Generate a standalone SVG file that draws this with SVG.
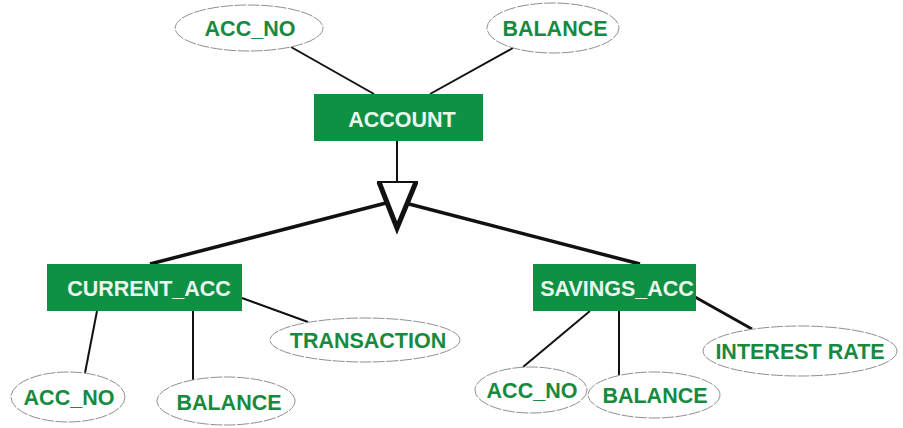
<svg xmlns="http://www.w3.org/2000/svg" width="903" height="428" viewBox="0 0 903 428">
  <style>
    .entity { fill: #0f9143; }
    .entity-label { fill: #eaf7ee; font-family: "Liberation Sans", Arial, sans-serif; font-weight: bold; font-size: 21.5px; text-anchor: middle; }
    .attr { fill: #ffffff; stroke: #8f8f8f; stroke-width: 1; stroke-dasharray: 12 1.5; }
    .attr-label { fill: #178a40; font-family: "Liberation Sans", Arial, sans-serif; font-weight: bold; font-size: 21.5px; text-anchor: middle; }
    .link { stroke: #111111; stroke-width: 2; fill: none; }
    .thick { stroke: #111111; stroke-width: 3.5; fill: none; }
  </style>
  <rect width="903" height="428" fill="#ffffff"/>

  <g id="connectors">
    <!-- ACCOUNT attributes -->
    <line class="link" x1="291" y1="47" x2="374" y2="94"/>
    <line class="link" x1="513" y1="48" x2="430" y2="94"/>
    <!-- ISA -->
    <line class="link" x1="397" y1="141" x2="397" y2="182"/>
    <line class="thick" x1="386" y1="203" x2="150" y2="264"/>
    <line class="thick" x1="409" y1="204" x2="640" y2="264"/>
    <!-- CURRENT_ACC attributes -->
    <line class="link" x1="97" y1="311" x2="85" y2="373"/>
    <line class="link" x1="193" y1="311" x2="193" y2="380"/>
    <line class="link" x1="242" y1="298" x2="308" y2="322"/>
    <!-- SAVINGS_ACC attributes -->
    <line class="link" x1="590" y1="311" x2="523" y2="367"/>
    <line class="link" x1="619" y1="311" x2="619" y2="375"/>
    <line class="thick" x1="695" y1="297" x2="752" y2="329" style="stroke-width:3"/>
  </g>

  <g id="isa-triangle">
    <line x1="377" y1="182" x2="418" y2="182" stroke="#111" stroke-width="2"/>
    <polyline points="379,182 397,228 416,182" fill="none" stroke="#111" stroke-width="5" stroke-linejoin="miter"/>
  </g>

  <g id="account">
    <rect class="entity" x="314" y="94" width="169" height="47"/>
    <text class="entity-label" x="402" y="127">ACCOUNT</text>
  </g>
  <g id="account-acc-no">
    <ellipse class="attr" cx="249" cy="28" rx="74" ry="23"/>
    <text class="attr-label" x="250" y="36">ACC_NO</text>
  </g>
  <g id="account-balance">
    <ellipse class="attr" cx="553" cy="28" rx="66" ry="25"/>
    <text class="attr-label" x="555" y="36">BALANCE</text>
  </g>

  <g id="current-acc">
    <rect class="entity" x="47" y="264" width="195" height="47"/>
    <text class="entity-label" x="149" y="296">CURRENT_ACC</text>
  </g>
  <g id="current-acc-no">
    <ellipse class="attr" cx="68" cy="397" rx="57" ry="25"/>
    <text class="attr-label" x="69" y="405">ACC_NO</text>
  </g>
  <g id="current-balance">
    <ellipse class="attr" cx="226" cy="401" rx="69" ry="24"/>
    <text class="attr-label" x="229" y="410">BALANCE</text>
  </g>
  <g id="current-transaction">
    <ellipse class="attr" cx="365" cy="340" rx="95" ry="22"/>
    <text class="attr-label" x="368" y="348">TRANSACTION</text>
  </g>

  <g id="savings-acc">
    <rect class="entity" x="533" y="264" width="163" height="47"/>
    <text class="entity-label" x="617" y="296">SAVINGS_ACC</text>
  </g>
  <g id="savings-acc-no">
    <ellipse class="attr" cx="531" cy="390" rx="56" ry="23"/>
    <text class="attr-label" x="532" y="398">ACC_NO</text>
  </g>
  <g id="savings-balance">
    <ellipse class="attr" cx="654" cy="395" rx="66" ry="23"/>
    <text class="attr-label" x="655" y="403">BALANCE</text>
  </g>
  <g id="savings-interest-rate">
    <ellipse class="attr" cx="800" cy="351" rx="97" ry="25"/>
    <text class="attr-label" x="800" y="359">INTEREST RATE</text>
  </g>
</svg>
